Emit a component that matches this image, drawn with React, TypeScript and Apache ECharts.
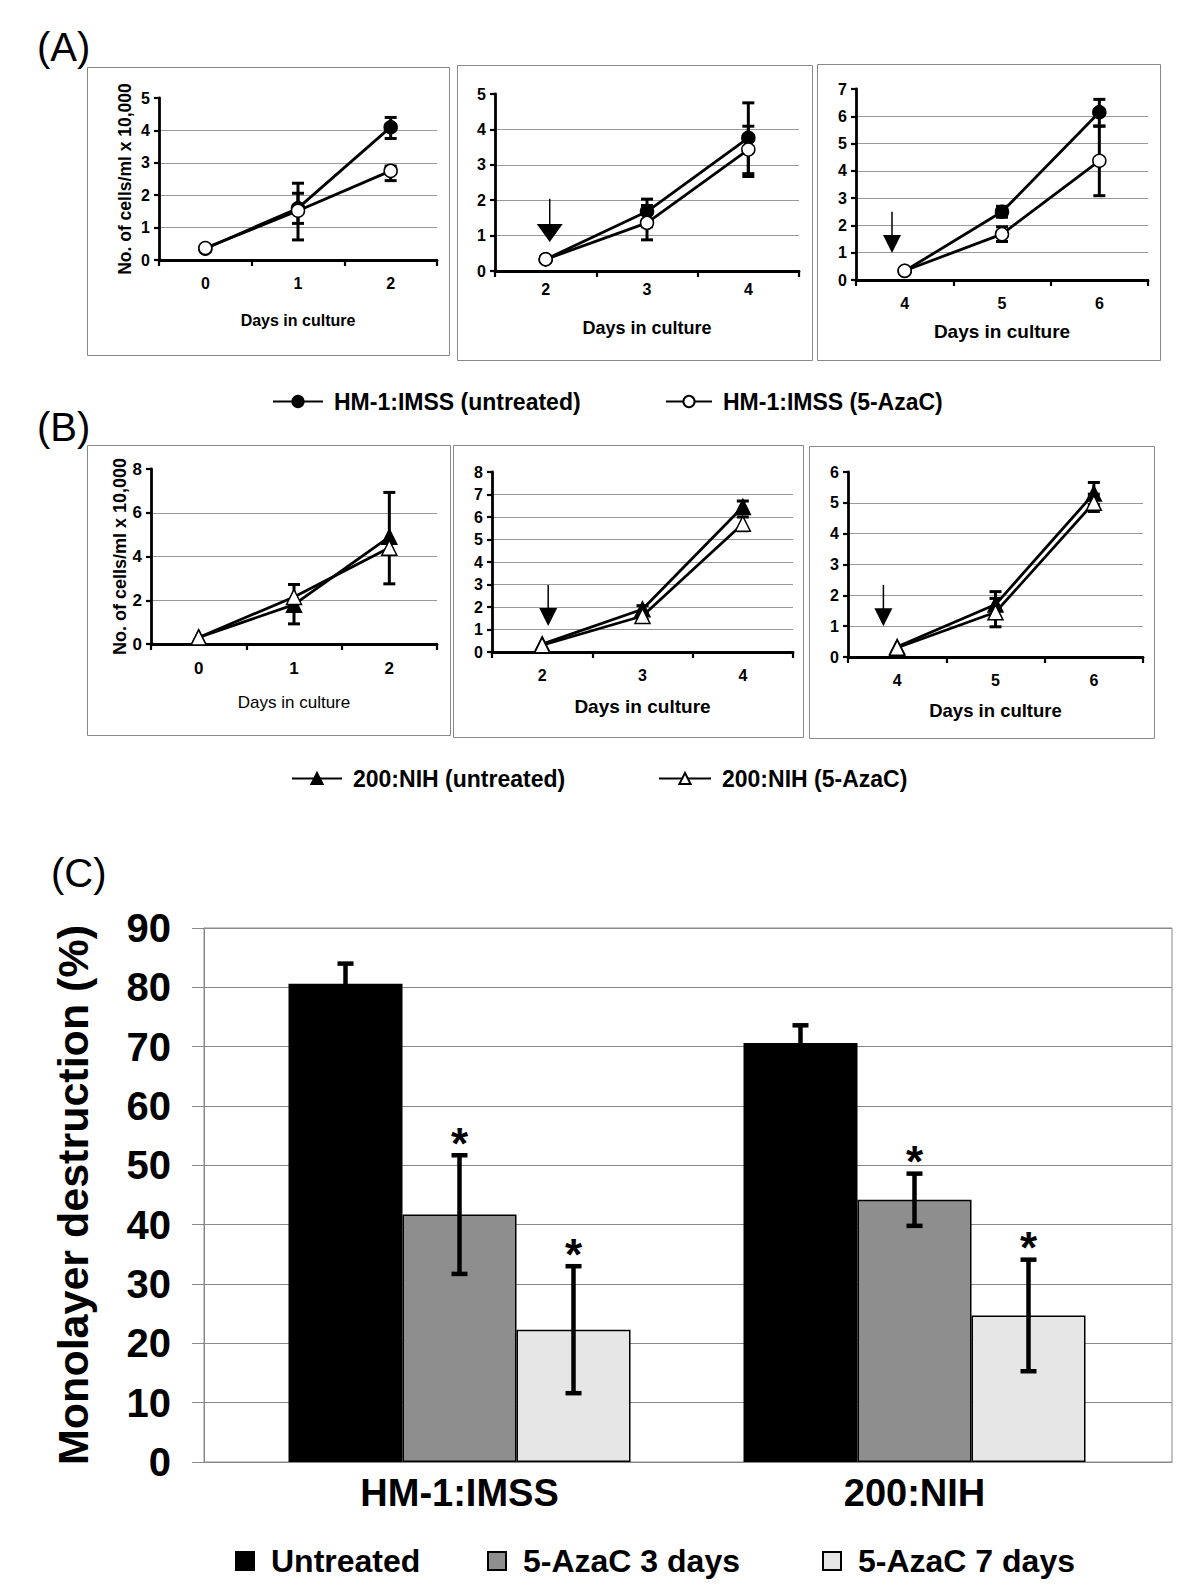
import React, { useEffect, useRef } from "react";
import * as echarts from "echarts";

const FONT = '"Liberation Sans", Arial, Helvetica, sans-serif';

// ---------------- Panel (A): HM-1:IMSS growth ----------------
const daysA1 = ["0", "1", "2"];
const daysA2 = ["2", "3", "4"];
const daysA3 = ["4", "5", "6"];

const hmUntreatedA1 = [0.35, 1.6, 4.1];
const hmUntreatedA1Low = [null, 1.13, 3.75];
const hmUntreatedA1High = [null, 2.06, 4.4];
const hmAzaA1 = [0.37, 1.52, 2.75];
const hmAzaA1Low = [null, 0.62, 2.45];
const hmAzaA1High = [null, 2.37, 2.9];

const hmUntreatedA2 = [0.33, 1.68, 3.76];
const hmUntreatedA2Low = [null, 1.25, 2.75];
const hmUntreatedA2High = [null, 2.03, 4.75];
const hmAzaA2 = [0.33, 1.36, 3.43];
const hmAzaA2Low = [null, 0.88, 2.67];
const hmAzaA2High = [null, 1.85, 4.09];

const hmUntreatedA3 = [0.33, 2.5, 6.15];
const hmUntreatedA3Low = [null, 2.3, 5.64];
const hmUntreatedA3High = [null, 2.7, 6.62];
const hmAzaA3 = [0.34, 1.68, 4.37];
const hmAzaA3Low = [null, 1.41, 3.09];
const hmAzaA3High = [null, 1.95, 5.64];

// arrow: [category index, top value, tip value, x offset as fraction of band]
const arrowA2 = [0, 2.04, 0.82, 0.04];
const arrowA3 = [0, 2.5, 0.99, -0.13];

// ---------------- Panel (B): 200:NIH growth ----------------
const daysB1 = ["0", "1", "2"];
const daysB2 = ["2", "3", "4"];
const daysB3 = ["4", "5", "6"];

const nihUntreatedB1 = [0.3, 1.8, 4.9];
const nihUntreatedB1Low = [null, 0.92, 2.75];
const nihUntreatedB1High = [null, 2.72, 6.93];
const nihAzaB1 = [0.3, 2.15, 4.4];
const nihAzaB1Low = [null, null, null];
const nihAzaB1High = [null, null, null];

const nihUntreatedB2 = [0.35, 1.9, 6.45];
const nihUntreatedB2Low = [null, 1.75, 6.2];
const nihUntreatedB2High = [null, 2.06, 6.71];
const nihAzaB2 = [0.3, 1.6, 5.7];
const nihAzaB2Low = [null, 1.45, 5.39];
const nihAzaB2High = [null, 1.75, 6.0];

const nihUntreatedB3 = [0.33, 1.7, 5.3];
const nihUntreatedB3Low = [null, 1.3, 4.95];
const nihUntreatedB3High = [null, 2.12, 5.66];
const nihAzaB3 = [0.3, 1.45, 5.0];
const nihAzaB3Low = [null, 0.98, 4.72];
const nihAzaB3High = [null, 1.9, 5.28];

const arrowB2 = [0, 2.98, 1.16, 0.06];
const arrowB3 = [0, 2.34, 1.0, -0.14];

// ---------------- Panel (C): monolayer destruction ----------------
const strains = ["HM-1:IMSS", "200:NIH"];
const untreated = [80.6, 70.6];
const untreatedErr = [3.4, 3.0];
const untreatedSig = [false, false];
const aza3 = [41.7, 44.2];
const aza3Err = [10.0, 4.4];
const aza3Sig = [true, true];
const aza7 = [22.3, 24.7];
const aza7Err = [10.7, 9.4];
const aza7Sig = [true, true];
const monolayerTicks = [0, 90, 10]; // min, max, interval

const NAME_HM_U = "HM-1:IMSS (untreated)";
const NAME_HM_A = "HM-1:IMSS (5-AzaC)";
const NAME_NIH_U = "200:NIH (untreated)";
const NAME_NIH_A = "200:NIH (5-AzaC)";

const BAR_W = 114;

function errRender(capHalf: number, lw: number) {
  return (params: any, api: any) => {
    const c = api.value(0);
    const lo = api.coord([c, api.value(1)]);
    const hi = api.coord([c, api.value(2)]);
    const style = { stroke: "#000", lineWidth: lw };
    return {
      type: "group",
      children: [
        { type: "line", shape: { x1: lo[0], y1: lo[1], x2: hi[0], y2: hi[1] }, style },
        { type: "line", shape: { x1: lo[0] - capHalf, y1: lo[1], x2: lo[0] + capHalf, y2: lo[1] }, style },
        { type: "line", shape: { x1: hi[0] - capHalf, y1: hi[1], x2: hi[0] + capHalf, y2: hi[1] }, style },
      ],
    };
  };
}

function arrowRender(headW: number) {
  return (params: any, api: any) => {
    const c = api.value(0);
    const top = api.coord([c, api.value(1)]);
    const tip = api.coord([c, api.value(2)]);
    const bw = api.size([1, 0])[0];
    const x = top[0] + api.value(3) * bw;
    const headH = 18;
    return {
      type: "group",
      children: [
        { type: "line", shape: { x1: x, y1: top[1], x2: x, y2: tip[1] - headH + 2 }, style: { stroke: "#000", lineWidth: 1.5 } },
        {
          type: "polygon",
          shape: { points: [[x - headW / 2, tip[1] - headH], [x + headW / 2, tip[1] - headH], [x, tip[1]]] },
          style: { fill: "#000" },
        },
      ],
    };
  };
}

function barErrRender(params: any, api: any) {
  const c = api.value(0);
  const k = api.value(3);
  const sig = api.value(4);
  const lo = api.coord([c, api.value(1)]);
  const hi = api.coord([c, api.value(2)]);
  const x = lo[0] + (k - 1) * BAR_W;
  const style = { stroke: "#000", lineWidth: 4.5 };
  const cap = 8;
  const children: any[] = [
    { type: "line", shape: { x1: x, y1: lo[1], x2: x, y2: hi[1] }, style },
    { type: "line", shape: { x1: x - cap, y1: lo[1], x2: x + cap, y2: lo[1] }, style },
    { type: "line", shape: { x1: x - cap, y1: hi[1], x2: x + cap, y2: hi[1] }, style },
  ];
  if (sig) {
    children.push({
      type: "text",
      style: {
        text: "*",
        x: x,
        y: hi[1] - 12,
        align: "center",
        verticalAlign: "middle",
        textAlign: "center",
        textVerticalAlign: "middle",
        fontSize: 44,
        fontWeight: "bold",
        fontFamily: FONT,
        fill: "#000",
      },
    });
  }
  return { type: "group", children };
}

type LineCfg = { name: string; values: number[]; low: (number | null)[]; high: (number | null)[]; symbol: string; size: number; fill: string };
type SubCfg = {
  days: string[];
  yMax: number;
  yInterval: number;
  tickFont: number;
  xLabelMargin: number;
  xNameSize: number;
  xNameWeight: string;
  xNameGap: number;
  yName?: string;
  yNameSize?: number;
  yNameGap?: number;
  lines: LineCfg[];
  arrow?: number[];
  arrowHead?: number;
};

function subplot(gi: number, cfg: SubCfg) {
  const xAxis = {
    gridIndex: gi,
    type: "category",
    data: cfg.days,
    boundaryGap: true,
    axisLine: { show: true, lineStyle: { color: "#000", width: 2.8 } },
    axisTick: { show: true, length: 6, lineStyle: { color: "#000", width: 2.2 } },
    axisLabel: { color: "#000", fontFamily: FONT, fontWeight: "bold", fontSize: cfg.tickFont, margin: cfg.xLabelMargin },
    splitLine: { show: false },
    name: "Days in culture",
    nameLocation: "middle",
    nameGap: cfg.xNameGap,
    nameTextStyle: { color: "#000", fontFamily: FONT, fontWeight: cfg.xNameWeight, fontSize: cfg.xNameSize },
  };
  const yAxis: any = {
    gridIndex: gi,
    type: "value",
    min: 0,
    max: cfg.yMax,
    interval: cfg.yInterval,
    axisLine: { show: true, lineStyle: { color: "#000", width: 2.8 } },
    axisTick: { show: true, length: 5, lineStyle: { color: "#000", width: 2.2 } },
    axisLabel: { color: "#000", fontFamily: FONT, fontWeight: "bold", fontSize: cfg.tickFont, margin: 9 },
    splitLine: { show: true, showMinLine: false, showMaxLine: false, lineStyle: { color: "#999", width: 1 } },
  };
  if (cfg.yName) {
    yAxis.name = cfg.yName;
    yAxis.nameLocation = "middle";
    yAxis.nameGap = cfg.yNameGap;
    yAxis.nameTextStyle = { color: "#000", fontFamily: FONT, fontWeight: "bold", fontSize: cfg.yNameSize };
  }
  const series: any[] = [];
  cfg.lines.forEach((l) => {
    const errData = l.values
      .map((v, i) => (l.low[i] == null ? null : [i, l.low[i], l.high[i]]))
      .filter((d) => d !== null);
    series.push({
      type: "custom",
      name: "error",
      xAxisIndex: gi,
      yAxisIndex: gi,
      data: errData,
      renderItem: errRender(6, 3),
      encode: { x: 0, y: [1, 2] },
      z: 3,
      silent: true,
    });
  });
  cfg.lines.forEach((l) => {
    series.push({
      type: "line",
      name: l.name,
      xAxisIndex: gi,
      yAxisIndex: gi,
      data: l.values,
      symbol: l.symbol,
      symbolSize: l.size,
      showSymbol: true,
      lineStyle: { color: "#000", width: 2.8 },
      itemStyle: { color: l.fill, borderColor: "#000", borderWidth: 1.5 },
      emphasis: { disabled: true },
      z: 4,
    });
  });
  if (cfg.arrow) {
    series.push({
      type: "custom",
      name: "arrow",
      xAxisIndex: gi,
      yAxisIndex: gi,
      data: [cfg.arrow],
      renderItem: arrowRender(cfg.arrowHead || 18),
      encode: { x: 0, y: [1, 2] },
      z: 5,
      silent: true,
    });
  }
  return { xAxis, yAxis, series };
}

function hmLines(u: number[], ul: any[], uh: any[], a: number[], al: any[], ah: any[]): LineCfg[] {
  return [
    { name: NAME_HM_U, values: u, low: ul, high: uh, symbol: "circle", size: 13, fill: "#000" },
    { name: NAME_HM_A, values: a, low: al, high: ah, symbol: "circle", size: 13, fill: "#fff" },
  ];
}
function nihLines(u: number[], ul: any[], uh: any[], a: number[], al: any[], ah: any[]): LineCfg[] {
  return [
    { name: NAME_NIH_U, values: u, low: ul, high: uh, symbol: "triangle", size: 15, fill: "#000" },
    { name: NAME_NIH_A, values: a, low: al, high: ah, symbol: "triangle", size: 15, fill: "#fff" },
  ];
}

const GRIDS = [
  { left: 159, top: 98, width: 278, height: 162 },
  { left: 495, top: 94, width: 304, height: 177 },
  { left: 856, top: 89, width: 292, height: 191 },
  { left: 151, top: 469, width: 286, height: 175 },
  { left: 492, top: 472, width: 301, height: 180 },
  { left: 848, top: 472, width: 295, height: 185 },
  { left: 204, top: 928, width: 968, height: 534 },
  { left: 232, top: 928, width: 910, height: 534 },
];

const BOXES = [
  [87, 67, 362, 288],
  [457, 65, 355, 295],
  [817, 64, 343, 296],
  [87, 445, 363, 290],
  [453, 445, 350, 292],
  [809, 446, 345, 292],
];

function buildOption() {
  const subs = [
    subplot(0, {
      days: daysA1, yMax: 5, yInterval: 1, tickFont: 16, xLabelMargin: 15,
      xNameSize: 16, xNameWeight: "bold", xNameGap: 52,
      yName: "No. of cells/ml x 10,000", yNameSize: 17.5, yNameGap: 25,
      lines: hmLines(hmUntreatedA1, hmUntreatedA1Low, hmUntreatedA1High, hmAzaA1, hmAzaA1Low, hmAzaA1High),
    }),
    subplot(1, {
      days: daysA2, yMax: 5, yInterval: 1, tickFont: 16, xLabelMargin: 10,
      xNameSize: 18, xNameWeight: "bold", xNameGap: 48,
      lines: hmLines(hmUntreatedA2, hmUntreatedA2Low, hmUntreatedA2High, hmAzaA2, hmAzaA2Low, hmAzaA2High),
      arrow: arrowA2, arrowHead: 26,
    }),
    subplot(2, {
      days: daysA3, yMax: 7, yInterval: 1, tickFont: 16, xLabelMargin: 15,
      xNameSize: 19, xNameWeight: "bold", xNameGap: 42,
      lines: hmLines(hmUntreatedA3, hmUntreatedA3Low, hmUntreatedA3High, hmAzaA3, hmAzaA3Low, hmAzaA3High),
      arrow: arrowA3, arrowHead: 18,
    }),
    subplot(3, {
      days: daysB1, yMax: 8, yInterval: 2, tickFont: 17, xLabelMargin: 16,
      xNameSize: 17, xNameWeight: "normal", xNameGap: 50,
      yName: "No. of cells/ml x 10,000", yNameSize: 18, yNameGap: 20,
      lines: nihLines(nihUntreatedB1, nihUntreatedB1Low, nihUntreatedB1High, nihAzaB1, nihAzaB1Low, nihAzaB1High),
    }),
    subplot(4, {
      days: daysB2, yMax: 8, yInterval: 1, tickFont: 16, xLabelMargin: 15,
      xNameSize: 19, xNameWeight: "bold", xNameGap: 45,
      lines: nihLines(nihUntreatedB2, nihUntreatedB2Low, nihUntreatedB2High, nihAzaB2, nihAzaB2Low, nihAzaB2High),
      arrow: arrowB2, arrowHead: 18,
    }),
    subplot(5, {
      days: daysB3, yMax: 6, yInterval: 1, tickFont: 16, xLabelMargin: 15,
      xNameSize: 18.5, xNameWeight: "bold", xNameGap: 44,
      lines: nihLines(nihUntreatedB3, nihUntreatedB3Low, nihUntreatedB3High, nihAzaB3, nihAzaB3Low, nihAzaB3High),
      arrow: arrowB3, arrowHead: 18,
    }),
  ];

  const xAxes: any[] = subs.map((s) => s.xAxis);
  const yAxes: any[] = subs.map((s) => s.yAxis);
  const series: any[] = [];
  subs.forEach((s) => series.push(...s.series));

  // Panel C axes (frame grid)
  xAxes.push({
    gridIndex: 6,
    type: "category",
    data: strains,
    axisLine: { show: true, lineStyle: { color: "#888", width: 1 } },
    axisTick: { show: false },
    axisLabel: { show: false },
  });
  yAxes.push({
    gridIndex: 6,
    type: "value",
    min: monolayerTicks[0],
    max: monolayerTicks[1],
    interval: monolayerTicks[2],
    axisLine: { show: true, lineStyle: { color: "#888", width: 1 } },
    axisTick: { show: true, length: 12, lineStyle: { color: "#888", width: 1 } },
    axisLabel: { color: "#000", fontFamily: FONT, fontWeight: "bold", fontSize: 40, margin: 33 },
    splitLine: { show: true, lineStyle: { color: "#888", width: 1 } },
    name: "Monolayer destruction (%)",
    nameLocation: "middle",
    nameGap: 110,
    nameTextStyle: { color: "#000", fontFamily: FONT, fontWeight: "bold", fontSize: 43 },
  });
  // Panel C bars grid
  xAxes.push({
    gridIndex: 7,
    type: "category",
    data: strains,
    axisLine: { show: false },
    axisTick: { show: false },
    axisLabel: { color: "#000", fontFamily: FONT, fontWeight: "bold", fontSize: 38, margin: 12 },
  });
  yAxes.push({ gridIndex: 7, type: "value", min: monolayerTicks[0], max: monolayerTicks[1], show: false });

  const barSeries = [
    { name: "Untreated", values: untreated, err: untreatedErr, sig: untreatedSig, color: "#000" },
    { name: "5-AzaC 3 days", values: aza3, err: aza3Err, sig: aza3Sig, color: "#8e8e8e" },
    { name: "5-AzaC 7 days", values: aza7, err: aza7Err, sig: aza7Sig, color: "#e6e6e6" },
  ];
  barSeries.forEach((b) => {
    series.push({
      type: "bar",
      name: b.name,
      xAxisIndex: 7,
      yAxisIndex: 7,
      data: b.values,
      barWidth: BAR_W,
      barGap: "0%",
      itemStyle: { color: b.color, borderColor: "#000", borderWidth: 1.5 },
      emphasis: { disabled: true },
      z: 2,
    });
  });
  const errData: any[] = [];
  barSeries.forEach((b, k) => {
    b.values.forEach((v, i) => {
      errData.push([i, v - b.err[i], v + b.err[i], k, b.sig[i] ? 1 : 0]);
    });
  });
  series.push({
    type: "custom",
    name: "barError",
    xAxisIndex: 7,
    yAxisIndex: 7,
    data: errData,
    renderItem: barErrRender,
    encode: { x: 0, y: [1, 2] },
    z: 5,
    silent: true,
  });

  const lineLegendText = { color: "#000", fontFamily: FONT, fontWeight: "bold", fontSize: 23, padding: [0, 0, 0, 6] };
  const barLegendText = { color: "#000", fontFamily: FONT, fontWeight: "bold", fontSize: 32, padding: [0, 0, 0, 12] };
  const lineLegend = (name: string, left: number, top: number, w: number) => ({
    data: [name], left, top, itemWidth: w, itemHeight: 14, selectedMode: false, textStyle: lineLegendText,
  });
  const barLegend = (name: string, left: number) => ({
    data: [name], left, top: 1540, itemWidth: 18, itemHeight: 18, icon: "rect", selectedMode: false, textStyle: barLegendText,
  });

  const graphic: any[] = BOXES.map((b) => ({
    type: "rect",
    silent: true,
    shape: { x: b[0] + 0.5, y: b[1] + 0.5, width: b[2], height: b[3] },
    style: { fill: "none", stroke: "#888", lineWidth: 1 },
    z: -10,
  }));
  const panelLabel = (t: string, x: number, y: number) => ({
    type: "text",
    x,
    y,
    silent: true,
    style: { text: t, fontSize: 40, fontFamily: FONT, fill: "#000", verticalAlign: "middle", textVerticalAlign: "middle" },
  });
  graphic.push(panelLabel("(A)", 37, 47));
  graphic.push(panelLabel("(B)", 37, 427));
  graphic.push(panelLabel("(C)", 51, 873));

  return {
    animation: false,
    backgroundColor: "#fff",
    textStyle: { fontFamily: FONT },
    grid: GRIDS.map((g, i) => ({
      ...g,
      containLabel: false,
      show: i === 6,
      borderColor: "#888",
      borderWidth: 1,
      backgroundColor: "transparent",
    })),
    xAxis: xAxes,
    yAxis: yAxes,
    legend: [
      lineLegend(NAME_HM_U, 267, 385, 50),
      lineLegend(NAME_HM_A, 660, 385, 46),
      lineLegend(NAME_NIH_U, 286, 762, 50),
      lineLegend(NAME_NIH_A, 653, 762, 52),
      barLegend("Untreated", 230),
      barLegend("5-AzaC 3 days", 482),
      barLegend("5-AzaC 7 days", 817),
    ],
    graphic,
    series,
  };
}

export default function App() {
  const ref = useRef<HTMLDivElement>(null);
  useEffect(() => {
    document.body.style.margin = "0";
    if (!ref.current) return;
    const chart = echarts.init(ref.current, undefined, { renderer: "svg" });
    chart.setOption(buildOption() as any);
    return () => {
      chart.dispose();
    };
  }, []);
  return <div ref={ref} style={{ width: 1200, height: 1584, background: "#fff" }} />;
}
